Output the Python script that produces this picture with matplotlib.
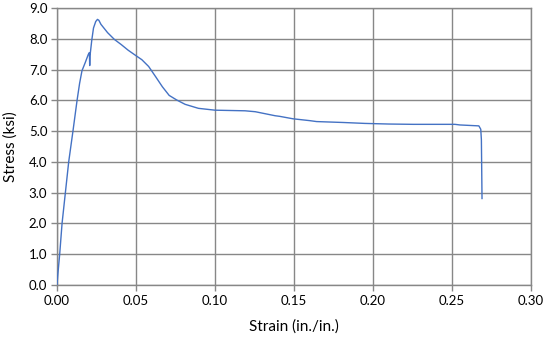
import matplotlib
matplotlib.use("Agg")
import matplotlib.pyplot as plt

# Stress-strain test record
strain = [0.0, 0.0004, 0.0017, 0.0032, 0.0053, 0.0074, 0.0101, 0.0127, 0.0143,
          0.0158, 0.0179, 0.0198, 0.0205, 0.0207, 0.0209, 0.0220, 0.0231,
          0.0245, 0.0256, 0.0265, 0.0278, 0.0320, 0.0363, 0.0407, 0.0450,
          0.0500, 0.0537, 0.0580, 0.0624, 0.0667, 0.0710, 0.0758, 0.0811,
          0.0895, 0.1000, 0.1190, 0.1255, 0.1380, 0.1409, 0.1494, 0.1547,
          0.1600, 0.1643, 0.1812, 0.1949, 0.2100, 0.2256, 0.2519, 0.2550,
          0.2670, 0.2682, 0.2686, 0.2690]
stress = [0.0, 0.27, 1.0, 2.0, 3.0, 4.0, 5.0, 6.0, 6.55,
          6.96, 7.23, 7.49, 7.55, 7.13, 7.45, 7.95, 8.35,
          8.56, 8.63, 8.60, 8.47, 8.20, 7.98, 7.81, 7.63,
          7.45, 7.32, 7.10, 6.77, 6.44, 6.16, 6.01, 5.87,
          5.74, 5.68, 5.66, 5.63, 5.50, 5.48, 5.40, 5.37,
          5.34, 5.31, 5.28, 5.25, 5.23, 5.22, 5.22, 5.20,
          5.17, 5.06, 4.72, 2.81]

x_ticks = [0.00, 0.05, 0.10, 0.15, 0.20, 0.25, 0.30]
y_ticks = [0.0, 1.0, 2.0, 3.0, 4.0, 5.0, 6.0, 7.0, 8.0, 9.0]

plt.rcParams['font.family'] = ['Lato', 'DejaVu Sans']

fig = plt.figure(figsize=(5.5, 3.44), dpi=100)
ax = fig.add_axes([57 / 550, 1 - 285 / 344, (531 - 57) / 550, (285 - 8) / 344])

grid_color = "#878787"
ax.plot(strain, stress, color="#4472C4", linewidth=1.0, zorder=3)

ax.set_xlim(0, 0.30)
ax.set_ylim(0, 9.0)
ax.set_xticks(x_ticks)
ax.set_yticks(y_ticks)
ax.set_xticklabels([f"{v:.2f}" for v in x_ticks])
ax.set_yticklabels([f"{v:.1f}" for v in y_ticks])
ax.grid(True, color=grid_color, linewidth=1.0, zorder=1)

for s in ax.spines.values():
    s.set_color(grid_color)
    s.set_linewidth(1.0)

ax.tick_params(axis="both", direction="out", length=4, width=1.0,
               color=grid_color, labelsize=9.5, labelcolor="black", pad=3)

ax.set_xlabel("Strain (in./in.)", fontsize=11, labelpad=9)
ax.set_ylabel("Stress (ksi)", fontsize=11, labelpad=8)

fig.savefig("out.png", dpi=100)
